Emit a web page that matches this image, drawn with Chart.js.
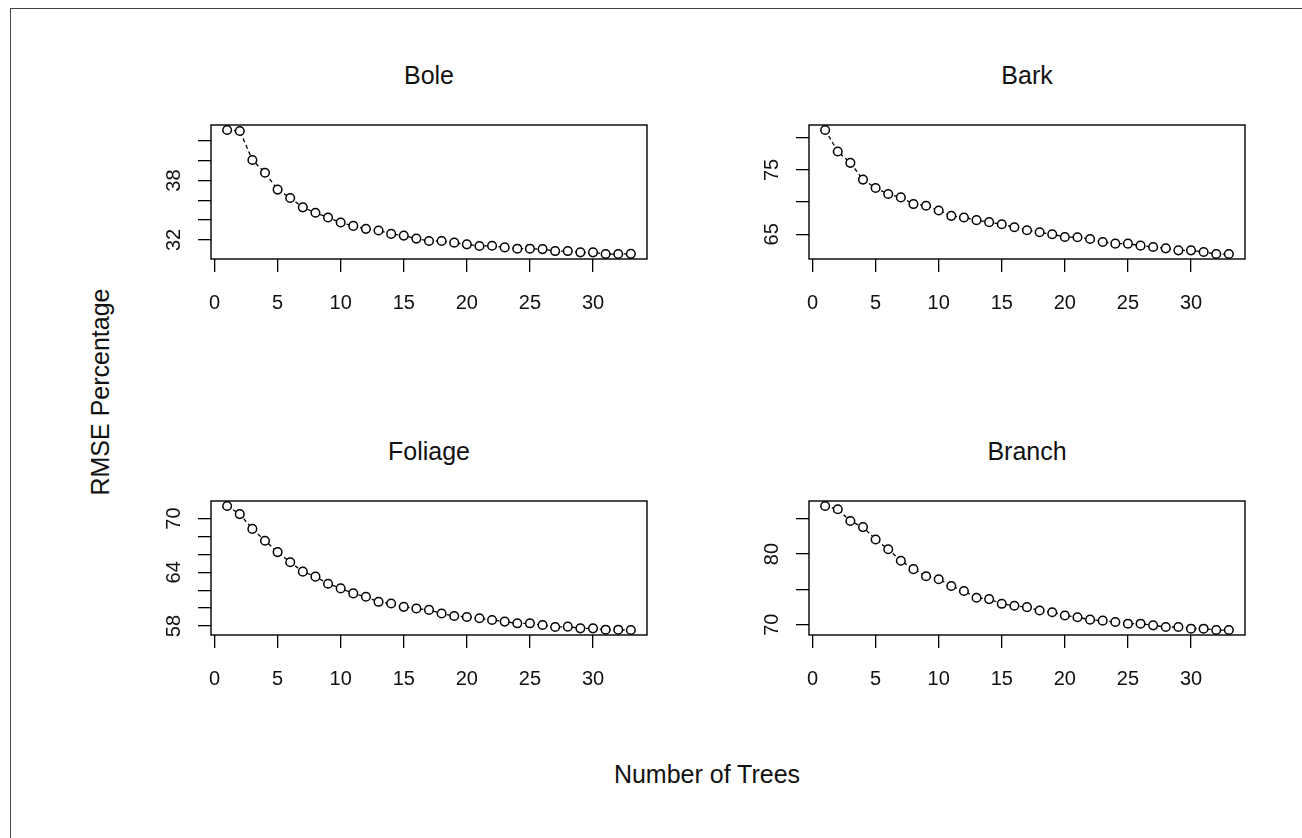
<!DOCTYPE html>
<html>
<head>
<meta charset="utf-8">
<script src="https://cdn.jsdelivr.net/npm/chart.js@4.4.1/dist/chart.umd.min.js"></script>
<style>
  body { margin: 0; background: #fff; width: 1302px; height: 838px; position: relative; overflow: hidden;
         font-family: "Liberation Sans", Arial, sans-serif; }
  #frame { position: absolute; left: 10px; top: 8px; width: 1300px; height: 840px;
           border-top: 1px solid #444; border-left: 1px solid #444; }
  canvas { position: absolute; }
  .lbl { position: absolute; font-size: 25px; line-height: 1; color: #111; white-space: nowrap;
         transform: translate(-50%, -50%); }
  .lbl.rot { transform: translate(-50%, -50%) rotate(-90deg); }
</style>
</head>
<body>
<div id="frame"></div>
<canvas id="bole"></canvas>
<canvas id="bark"></canvas>
<canvas id="foliage"></canvas>
<canvas id="branch"></canvas>
<div class="lbl" style="left:429px;top:75px">Bole</div>
<div class="lbl" style="left:1027px;top:75px">Bark</div>
<div class="lbl" style="left:429px;top:451px">Foliage</div>
<div class="lbl" style="left:1027px;top:451px">Branch</div>
<div class="lbl rot" style="left:100px;top:392px">RMSE Percentage</div>
<div class="lbl" style="left:707px;top:774px">Number of Trees</div>
<script>
// number of trees in the forest
const trees = [1, 2, 3, 4, 5, 6, 7, 8, 9, 10, 11, 12, 13, 14, 15, 16, 17,
               18, 19, 20, 21, 22, 23, 24, 25, 26, 27, 28, 29, 30, 31, 32, 33];

// RMSE percentage per component
const boleRmse = [43.1, 43.0, 40.07, 38.78, 37.08, 36.24, 35.29, 34.75, 34.27, 33.76, 33.42,
                  33.12, 32.95, 32.61, 32.44, 32.14, 31.9, 31.9, 31.73, 31.56, 31.39, 31.42,
                  31.25, 31.12, 31.12, 31.08, 30.88, 30.88, 30.75, 30.75, 30.58, 30.58, 30.6];
const barkRmse = [81.2, 77.86, 76.09, 73.49, 72.19, 71.25, 70.73, 69.69, 69.43, 68.7, 67.86,
                  67.6, 67.19, 66.88, 66.56, 66.09, 65.63, 65.31, 65.0, 64.58, 64.53, 64.27,
                  63.8, 63.54, 63.54, 63.23, 63.02, 62.81, 62.5, 62.5, 62.24, 61.93, 61.93];
const foliageRmse = [71.4, 70.49, 68.84, 67.52, 66.25, 65.12, 64.07, 63.51, 62.72, 62.2, 61.64,
                     61.26, 60.7, 60.51, 60.14, 59.95, 59.8, 59.39, 59.12, 59.01, 58.86, 58.67,
                     58.49, 58.3, 58.3, 58.11, 57.89, 57.93, 57.74, 57.74, 57.59, 57.59, 57.55];
const branchRmse = [86.8, 86.33, 84.67, 83.81, 82.05, 80.67, 79.05, 77.86, 76.86, 76.43, 75.48,
                    74.76, 73.81, 73.62, 72.95, 72.67, 72.48, 72.0, 71.76, 71.29, 71.05, 70.71,
                    70.57, 70.38, 70.14, 70.14, 69.9, 69.67, 69.67, 69.43, 69.43, 69.24, 69.24];

// axis ticks, and the y labels R actually printed
const xTicks = [0, 5, 10, 15, 20, 25, 30];
const boleTicks = [32, 34, 36, 38, 40, 42];
const boleLabels = [32, 38];
const barkTicks = [65, 70, 75, 80];
const barkLabels = [65, 75];
const foliageTicks = [58, 60, 62, 64, 66, 68, 70];
const foliageLabels = [58, 64, 70];
const branchTicks = [70, 75, 80, 85];
const branchLabels = [70, 80];

const FONT = '"Liberation Sans", Arial, sans-serif';

// R style range: data range plus 4% each side
function rRange(vals) {
  const lo = Math.min(...vals), hi = Math.max(...vals);
  const pad = (hi - lo) * 0.04;
  return { min: lo - pad, max: hi + pad };
}

// box around the plot region + rotated y labels like base R
const rPanel = {
  id: "rPanel",
  afterDraw(chart) {
    const { ctx, chartArea: a } = chart;
    const ys = chart.scales.y;
    ctx.save();
    ctx.strokeStyle = "#000";
    ctx.lineWidth = 1.4;
    ctx.strokeRect(a.left, a.top, a.right - a.left, a.bottom - a.top);
    ctx.fillStyle = "#111";
    ctx.font = "20px " + FONT;
    ctx.textAlign = "center";
    ctx.textBaseline = "middle";
    for (const v of chart.options.plugins.rPanel.labels) {
      ctx.save();
      ctx.translate(a.left - 38, ys.getPixelForValue(v));
      ctx.rotate(-Math.PI / 2);
      ctx.fillText(String(v), 0, 1);
      ctx.restore();
    }
    ctx.restore();
  },
};

function makePanel(id, values, yTicks, yLabels, box) {
  const el = document.getElementById(id);
  const w = box.r - box.l + 90, h = box.b - box.t + 90;
  el.width = w; el.height = h;
  el.style.left = (box.l - 70) + "px";
  el.style.top = (box.t - 20) + "px";
  const xr = rRange(trees), yr = rRange(values);

  new Chart(el, {
    type: "line",
    data: {
      labels: trees,
      datasets: [{
        data: trees.map((t, i) => ({ x: t, y: values[i] })),
        borderColor: "#000",
        borderWidth: 1.3,
        borderDash: [4, 3],
        pointRadius: 4.3,
        pointBorderWidth: 1.5,
        pointBorderColor: "#000",
        pointBackgroundColor: "#fff",
        tension: 0,
        clip: false,
      }],
    },
    options: {
      responsive: false,
      devicePixelRatio: 1,
      animation: false,
      layout: { padding: { left: 10, top: 20, right: 20, bottom: 10 } },
      scales: {
        x: {
          type: "linear",
          min: xr.min,
          max: xr.max,
          afterBuildTicks: (s) => { s.ticks = xTicks.map((v) => ({ value: v })); },
          afterFit: (s) => { s.height = 60; },
          border: { display: false },
          grid: { drawOnChartArea: false, drawTicks: true, tickLength: 13, color: "#000", lineWidth: 1.3 },
          ticks: { color: "#111", font: { size: 20, family: FONT }, padding: 19, maxRotation: 0, autoSkip: false },
        },
        y: {
          min: yr.min,
          max: yr.max,
          afterBuildTicks: (s) => { s.ticks = yTicks.map((v) => ({ value: v })); },
          afterFit: (s) => { s.width = 60; },
          border: { display: false },
          grid: { drawOnChartArea: false, drawTicks: true, tickLength: 13, color: "#000", lineWidth: 1.3 },
          ticks: { display: false },
        },
      },
      plugins: {
        legend: { display: false },
        tooltip: { enabled: false },
        rPanel: { labels: yLabels },
      },
    },
    plugins: [rPanel],
  });
}

makePanel("bole", boleRmse, boleTicks, boleLabels, { l: 211, t: 125, r: 647, b: 259 });
makePanel("bark", barkRmse, barkTicks, barkLabels, { l: 809, t: 125, r: 1245, b: 259 });
makePanel("foliage", foliageRmse, foliageTicks, foliageLabels, { l: 211, t: 501, r: 647, b: 635 });
makePanel("branch", branchRmse, branchTicks, branchLabels, { l: 809, t: 501, r: 1245, b: 635 });
</script>
</body>
</html>
